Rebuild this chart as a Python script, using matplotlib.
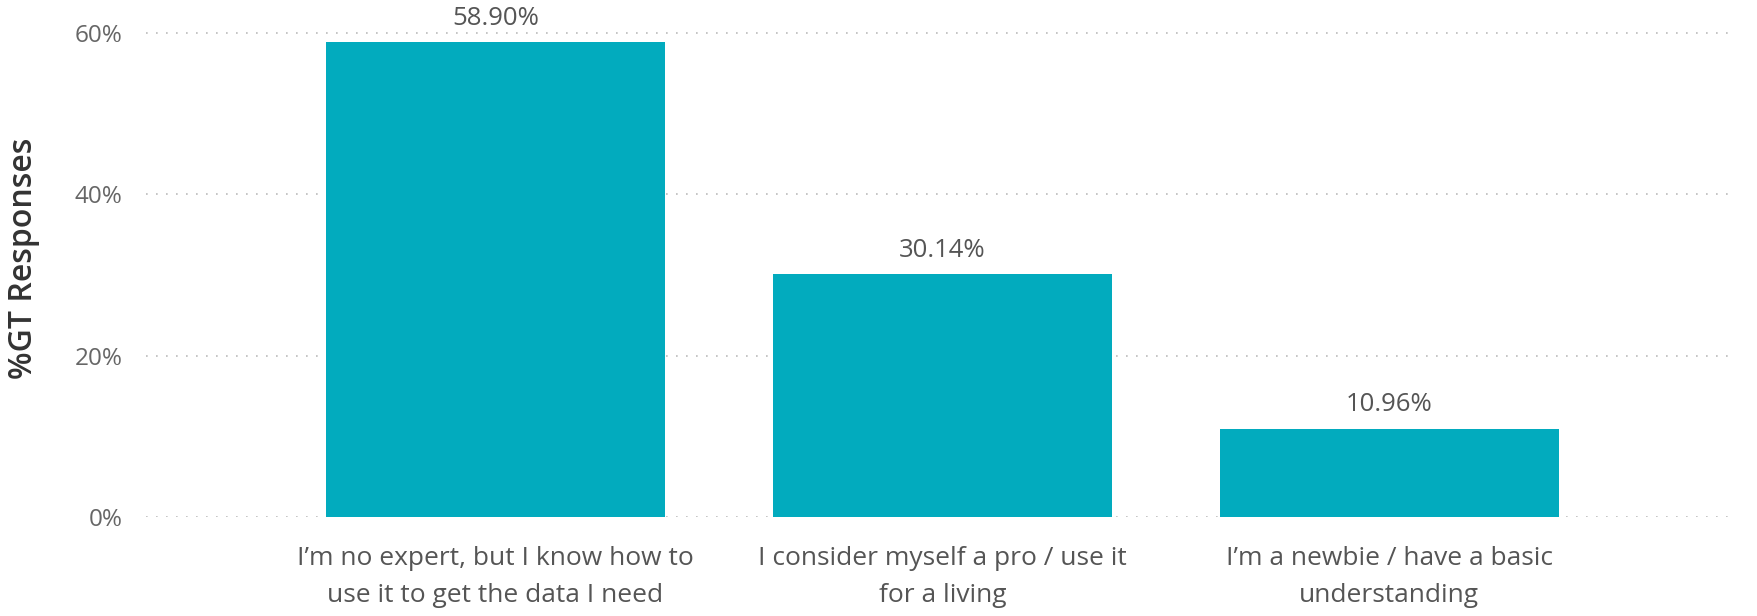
import matplotlib
matplotlib.use("Agg")
import matplotlib.pyplot as plt
from matplotlib.ticker import FuncFormatter

categories = [
    "I\u2019m no expert, but I know how to\nuse it to get the data I need",
    "I consider myself a pro / use it\nfor a living",
    "I\u2019m a newbie / have a basic\nunderstanding",
]
values = [58.90, 30.14, 10.96]
yticks = [0, 20, 40, 60]

bar_color = "#02ABBE"

plt.rcParams["font.family"] = ["Open Sans", "DejaVu Sans"]

fig = plt.figure(figsize=(17.58, 6.16), dpi=100)
ax = fig.add_axes([146 / 1758, 99 / 616, (1732 - 146) / 1758, (616 - 99) / 616])

x = list(range(len(values)))
ax.bar(x, values, width=0.758, color=bar_color, zorder=3)

for xi, v in zip(x, values):
    ax.annotate(f"{v:.2f}%", (xi, v), xytext=(0, 12.5), textcoords="offset points",
                ha="center", va="baseline", fontsize=18.5, color="#555555",
                annotation_clip=False)

ax.set_xlim(-0.782, 2.767)
ax.set_ylim(0, 64.1)
ax.set_yticks(yticks)
ax.yaxis.set_major_formatter(FuncFormatter(lambda v, p: f"{v:.0f}%"))
ax.set_xticks(x)
ax.set_xticklabels(categories, fontsize=19, color="#555555", linespacing=1.62)
ax.tick_params(axis="y", labelsize=17.5, colors="#666666", length=0, pad=17)
ax.tick_params(axis="x", length=0, pad=21)

ax.grid(axis="y", linestyle=(0, (1, 5)), color="#BBBBBB", linewidth=1.2, zorder=0)
for s in ax.spines.values():
    s.set_visible(False)

ax.set_ylabel("%GT Responses", fontsize=23, color="#333333",
              fontweight="semibold", labelpad=25)

fig.savefig("out.png", dpi=100)
